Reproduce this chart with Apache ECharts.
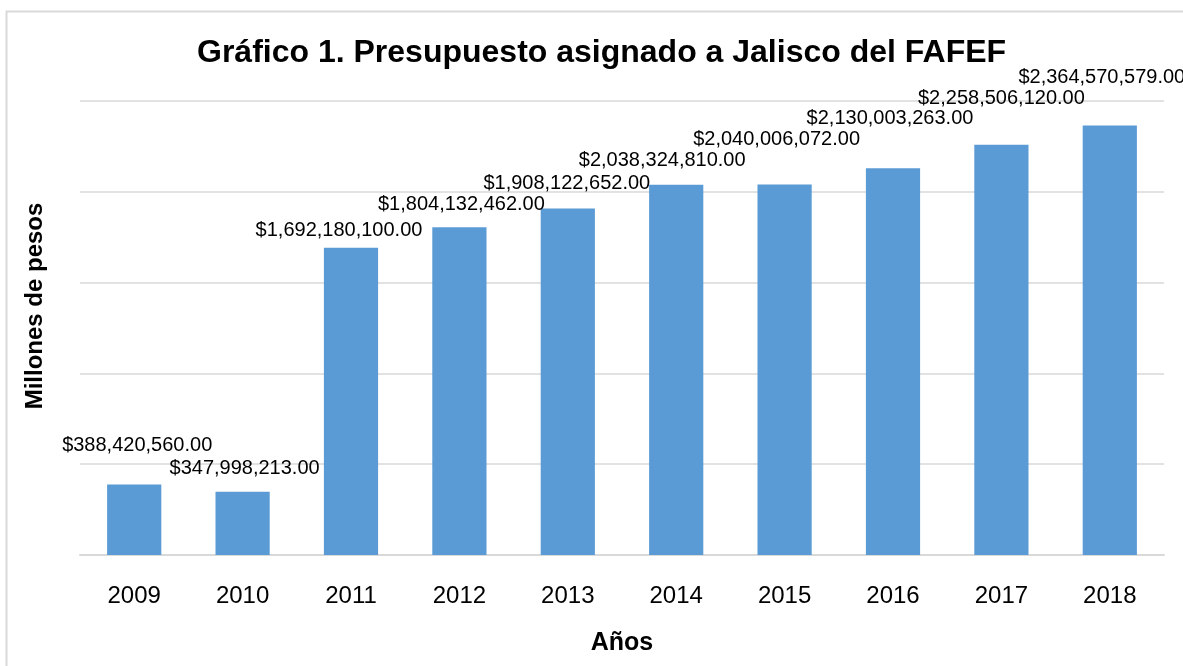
<!DOCTYPE html>
<html>
<head>
<meta charset="utf-8">
<script src="https://cdn.jsdelivr.net/npm/echarts@6/dist/echarts.min.js"></script>
<style>
  html, body { margin: 0; padding: 0; background: #fff; }
  #chart { width: 1183px; height: 666px; }
</style>
</head>
<body>
<div id="chart"></div>
<script>
// datos
const years = ['2009', '2010', '2011', '2012', '2013', '2014', '2015', '2016', '2017', '2018'];
const presupuesto = [388420560.00, 347998213.00, 1692180100.00, 1804132462.00, 1908122652.00,
                     2038324810.00, 2040006072.00, 2130003263.00, 2258506120.00, 2364570579.00];

// desplazamiento manual de las etiquetas (como en el original)
const labelShift = [[3, -29], [2, -13], [-12, -7], [2, -13], [-1, -15],
                    [-14, -14], [-8, -35], [-3, -40], [0, -36], [-8, -38]];

const BAR_COLOR = '#5B9BD5';
const GRID_COLOR = '#D9D9D9';

function money(v) {
    return '$' + v.toLocaleString('en-US', { minimumFractionDigits: 2, maximumFractionDigits: 2 });
}

let chart = echarts.init(document.getElementById('chart'));

let options = {
    backgroundColor: '#fff',
    textStyle: { fontFamily: 'Liberation Sans, Arial, sans-serif' },
    graphic: [
        {
            type: 'rect',
            shape: { x: 6.5, y: 11.5, width: 1200, height: 700 },
            style: { fill: 'none', stroke: GRID_COLOR, lineWidth: 2 },
            silent: true
        }
    ],
    title: {
        text: 'Gráfico 1. Presupuesto asignado a Jalisco del FAFEF',
        left: 192,
        top: 32,
        textStyle: { fontSize: 32, fontWeight: 'bold', color: '#000' }
    },
    grid: { left: 80, right: 19, top: 101, bottom: 111 },
    xAxis: {
        type: 'category',
        data: years,
        name: 'Años',
        nameLocation: 'middle',
        nameGap: 76,
        nameTextStyle: { fontSize: 25, fontWeight: 'bold', color: '#000' },
        axisLine: { lineStyle: { color: GRID_COLOR, width: 2 } },
        axisTick: { show: false },
        axisLabel: { fontSize: 24, color: '#000', margin: 29 }
    },
    yAxis: {
        type: 'value',
        min: 0,
        max: 2500000000,
        interval: 500000000,
        name: 'Millones de pesos',
        nameLocation: 'middle',
        nameGap: 33,
        nameTextStyle: { fontSize: 24, fontWeight: 'bold', color: '#000', padding: [0, 0, 0, 44] },
        axisLabel: { show: false },
        axisLine: { show: false },
        axisTick: { show: false },
        splitLine: { lineStyle: { color: GRID_COLOR, width: 1.5 } }
    },
    series: [
        {
            type: 'bar',
            barWidth: '50%',
            itemStyle: { color: BAR_COLOR },
            label: {
                show: true,
                position: 'top',
                distance: 0,
                fontSize: 20,
                color: '#000',
                formatter: (p) => money(p.value)
            },
            data: presupuesto.map((v, i) => ({
                value: v,
                label: { offset: labelShift[i] }
            }))
        }
    ]
};

chart.setOption(options);
window.addEventListener('resize', () => chart.resize());
</script>
</body>
</html>
